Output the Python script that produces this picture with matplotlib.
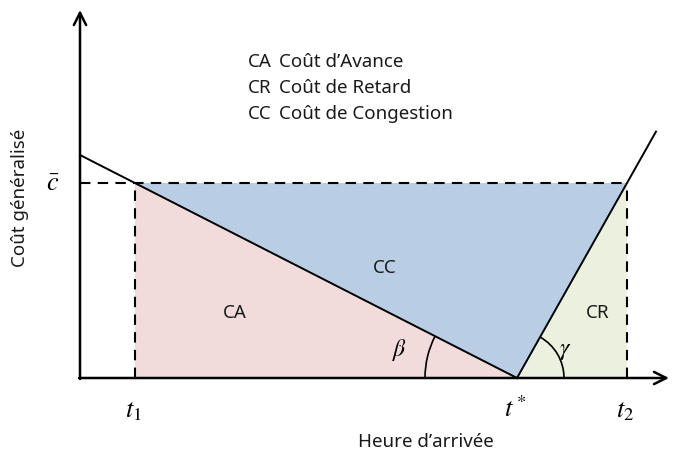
import matplotlib
matplotlib.use("Agg")
import matplotlib.pyplot as plt
from matplotlib.patches import Polygon, Arc
import numpy as np

plt.rcParams['mathtext.fontset'] = 'stix'

# Diagram values (time on x, generalised cost on y)
t1 = 55.0
t_star = 437.0
t2 = 547.0
c_bar = 195.0
early_intercept = 223.0       # cost at t = 0 on early-arrival line
late_end = 576.0              # end of late-arrival line
legend_codes = ["CA", "CR", "CC"]
legend_names = ["Coût d’Avance", "Coût de Retard", "Coût de Congestion"]
tick_labels = [r"$t_1$", r"$t^*$", r"$t_2$"]

beta_slope = early_intercept / t_star
late_slope = c_bar / (t2 - t_star)

fig = plt.figure(figsize=(6.73, 4.54), dpi=100)
ax = fig.add_axes([0, 0, 1, 1])
ax.set_xlim(-80, 593)
ax.set_ylim(-76, 378)
ax.axis('off')

# Filled regions
ca = Polygon([[t1, c_bar], [t1, 0], [t_star, 0]], closed=True,
             facecolor='#f2dcdb', edgecolor='none', zorder=1)
cc = Polygon([[t1, c_bar], [t2, c_bar], [t_star, 0]], closed=True,
             facecolor='#b9cde5', edgecolor='none', zorder=1)
cr = Polygon([[t_star, 0], [t2, 0], [t2, c_bar]], closed=True,
             facecolor='#ebf1de', edgecolor='none', zorder=1)
for p in (ca, cc, cr):
    ax.add_patch(p)

# Cost lines
ax.plot([0, t_star], [early_intercept, 0], color='black', lw=1.4, zorder=3)
ax.plot([t_star, late_end], [0, late_slope * (late_end - t_star)],
        color='black', lw=1.4, zorder=3)

# Dashed guides
dash = dict(color='black', lw=1.5, ls=(0, (5, 3.5)), zorder=2)
ax.plot([0, t2], [c_bar, c_bar], **dash)
ax.plot([t1, t1], [0, c_bar], **dash)
ax.plot([t2, t2], [0, c_bar], **dash)

# Axes arrows
ax.annotate('', xy=(0, 368), xytext=(0, -1),
            arrowprops=dict(arrowstyle='->', lw=1.8, color='black',
                            mutation_scale=22, shrinkA=0, shrinkB=0), zorder=4)
ax.annotate('', xy=(589, 0), xytext=(-1, 0),
            arrowprops=dict(arrowstyle='->', lw=1.8, color='black',
                            mutation_scale=22, shrinkA=0, shrinkB=0), zorder=4)

# Angle arcs
beta_deg = np.degrees(np.arctan(beta_slope))
gamma_deg = np.degrees(np.arctan(late_slope))
ax.add_patch(Arc((t_star, 0), 184, 184, theta1=180 - beta_deg, theta2=180,
                 color='black', lw=1.2, zorder=3))
ax.add_patch(Arc((t_star, 0), 94, 94, theta1=0, theta2=gamma_deg,
                 color='black', lw=1.2, zorder=3))

txt = dict(family='Noto Sans', fontsize=13.5, color='#1a1a1a')
ax.text(320, 28, r"$\beta$", fontsize=17, ha='center', va='center')
ax.text(485, 28, r"$\gamma$", fontsize=17, ha='center', va='center')

# Region labels
ax.text(155, 65, "CA", ha='center', va='center', **txt)
ax.text(305, 110, "CC", ha='center', va='center', **txt)
ax.text(518, 65, "CR", ha='center', va='center', **txt)

# Legend text
for i, (code, name) in enumerate(zip(legend_codes, legend_names)):
    y = 316 - i * 26
    ax.text(168, y, code, ha='left', va='center', **txt)
    ax.text(199, y, name, ha='left', va='center', **txt)

# Tick labels
for x, lab in zip([t1, t_star, t2], tick_labels):
    ax.text(x - 2, -32, lab, ha='center', va='center', fontsize=19)
ax.text(-27, 194, r"$\bar{c}$", ha='center', va='center', fontsize=19)

# Axis titles
ax.text(346, -64, "Heure d’arrivée", ha='center', va='center', **txt)
ax.text(-60, 180, "Coût généralisé", ha='center', va='center',
        rotation=90, **txt)

fig.savefig("out.png", dpi=100)
